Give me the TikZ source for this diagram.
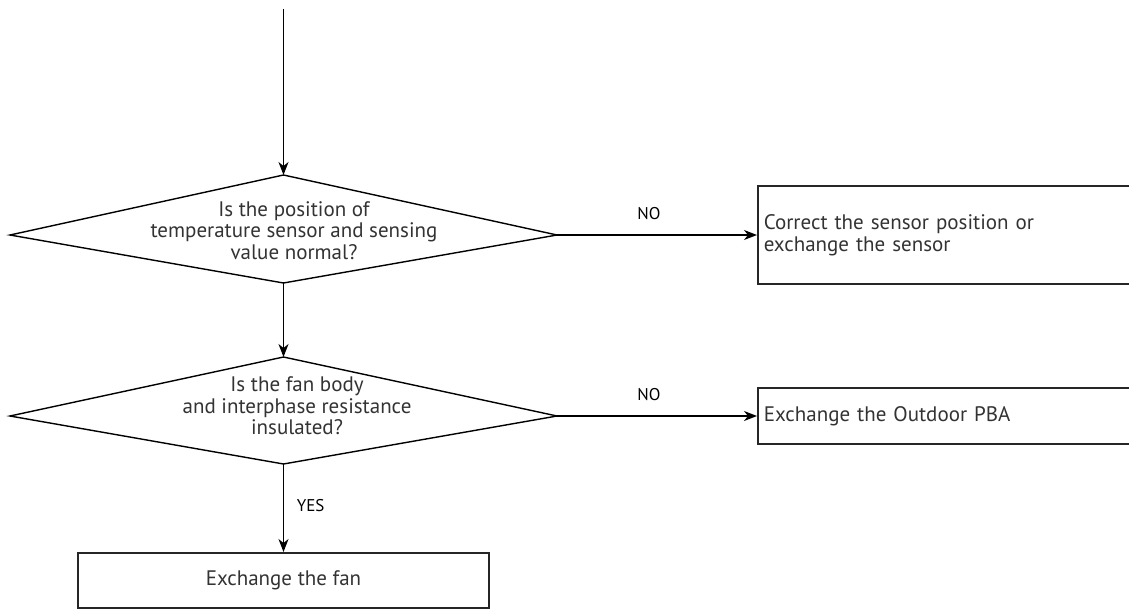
\documentclass[tikz,border=0pt]{standalone}
\usepackage{fontspec}
\setmainfont{PT Sans}
\usetikzlibrary{positioning,arrows.meta}

\begin{document}
\begin{tikzpicture}[
    x=0.5pt, y=-0.5pt,
    decision/.style={draw=black, line width=0.7pt, line join=miter},
    qtext/.style={align=center, inner sep=0pt, text=black!80,
                font=\fontsize{10.5}{10.75}\selectfont},
    box/.style={rectangle, draw=black!85, line width=0.8pt, inner xsep=3pt,
                text=black!80, font=\fontsize{10.5}{10.75}\selectfont},
    arrow/.style={-{Stealth[length=6.5pt, width=5pt, inset=2pt]}, line width=0.7pt},
    lbl/.style={font=\fontsize{8.5}{10}\selectfont}
]
\useasboundingbox (0,0) rectangle (1129,610);

\coordinate (start) at (283.5,9);

% first check
\coordinate (q1n) at (283.5,175);
\coordinate (q1e) at (557,235);
\coordinate (q1s) at (283.5,283);
\coordinate (q1w) at (10,235);
\draw[decision] (q1n) -- (q1e) -- (q1s) -- (q1w) -- cycle;
\node[qtext] (q1) at (294,230.5) {
    Is the position of\\
    temperature sensor and sensing\\
    value normal?
};

% second check
\coordinate (q2n) at (283.5,357);
\coordinate (q2e) at (557,416);
\coordinate (q2s) at (283.5,464);
\coordinate (q2w) at (10,416);
\draw[decision] (q2n) -- (q2e) -- (q2s) -- (q2w) -- cycle;
\node[qtext] (q2) at (297,406) {
    Is the fan body\\
    and interphase resistance\\
    insulated?
};

\node[box, anchor=west, right=100pt of q1e, minimum width=192pt, minimum height=49pt,
      text width=186pt, align=left] (fix1) {
    Correct the sensor position or\\
    exchange the sensor
};
\node[box, anchor=west, right=100pt of q2e, minimum width=192pt, minimum height=28pt,
      text width=186pt, align=left] (fix2) {Exchange the Outdoor PBA};
\node[box, below=44pt of q2s, minimum width=205.5pt, minimum height=27.5pt,
      align=center] (fix3) {Exchange the fan};

\draw[arrow] (start) -- (q1n);
\draw[arrow] (q1e) -- node[lbl, above=4pt, xshift=-4pt] {NO} (fix1.west);
\draw[arrow] (q1s) -- (q2n);
\draw[arrow] (q2e) -- node[lbl, above=4pt, xshift=-4pt] {NO} (fix2.west);
\draw[arrow] (q2s) -- node[lbl, right=3pt, yshift=1pt] {YES} (fix3.north);

\end{tikzpicture}
\end{document}
